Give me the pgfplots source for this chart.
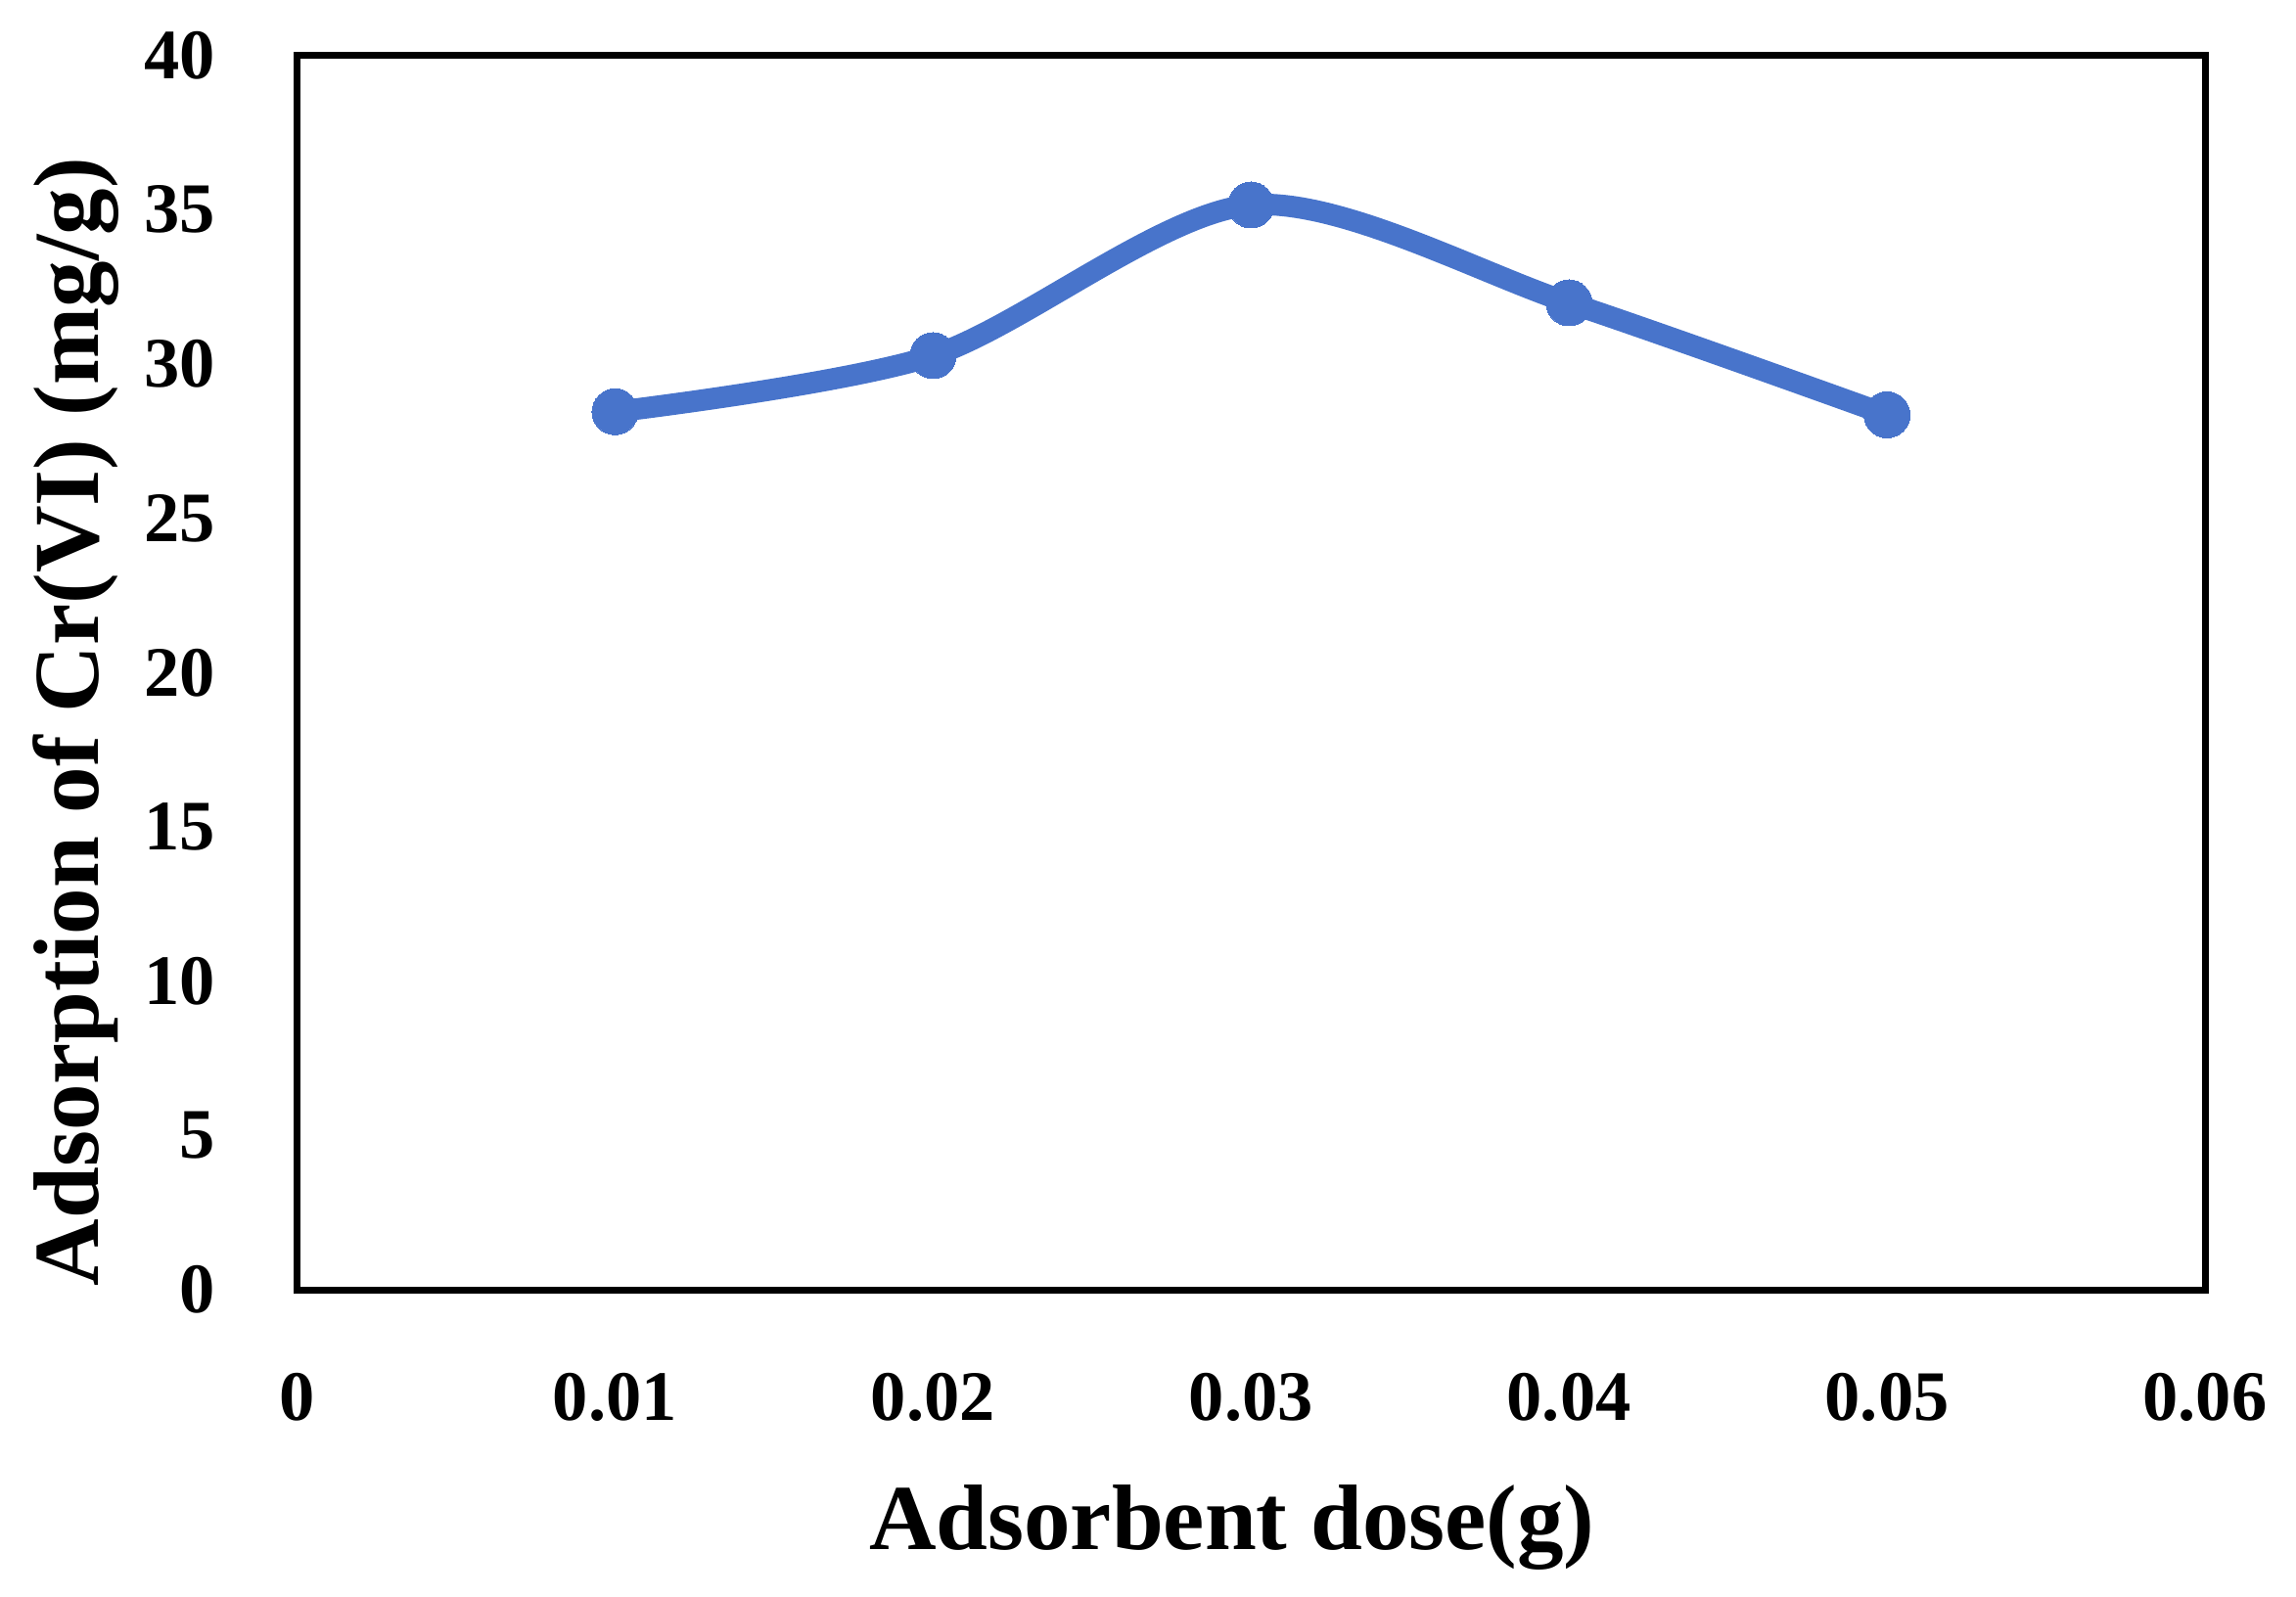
\documentclass[border=0pt]{standalone}
\usepackage{fontspec}
\setmainfont{Liberation Serif}
\usepackage{pgfplots}
\pgfplotsset{compat=1.18}
\definecolor{exblue}{HTML}{4874CB}
\begin{document}
\begin{tikzpicture}
\begin{axis}[
    width=389.9pt, height=252.3pt,
    scale only axis,
    xmin=0, xmax=0.06,
    ymin=0, ymax=40,
    xtick={0,0.01,0.02,0.03,0.04,0.05,0.06},
    xticklabels={0,0.01,0.02,0.03,0.04,0.05,0.06},
    ytick={0,5,10,15,20,25,30,35,40},
    scaled x ticks=false,
    major tick length=0pt,
    axis line style={line width=1.4pt},
    tick label style={font=\fontsize{14.5}{17}\selectfont\bfseries, inner sep=1pt},
    /pgf/number format/assume math mode=true,
    xticklabel shift=15.8pt,
    yticklabel shift=15.5pt,
    xlabel={Adsorbent dose(g)},
    ylabel={Adsorption of Cr(VI) (mg/g)},
    label style={font=\fontsize{19}{22}\selectfont\bfseries, inner sep=0pt},
    xlabel style={at={(axis description cs:0.49,0)}, anchor=south, yshift=-57.5pt},
    ylabel style={at={(axis description cs:0,0.46)}, anchor=north, yshift=54.2pt},
]
\addplot[color=exblue, line width=4.4pt, smooth, mark=*, mark size=4.7pt,
    mark options={fill=exblue, draw=exblue, line width=0pt}]
    coordinates {
    (0.01, 28.45)
    (0.02, 30.27)
    (0.03, 35.15)
    (0.04, 31.98)
    (0.05, 28.35)
    };
\end{axis}
\path ([shift={(-60.7pt,-62.6pt)}]current axis.south west) rectangle ([shift={(18.6pt,11.3pt)}]current axis.north east);
\end{tikzpicture}
\end{document}
